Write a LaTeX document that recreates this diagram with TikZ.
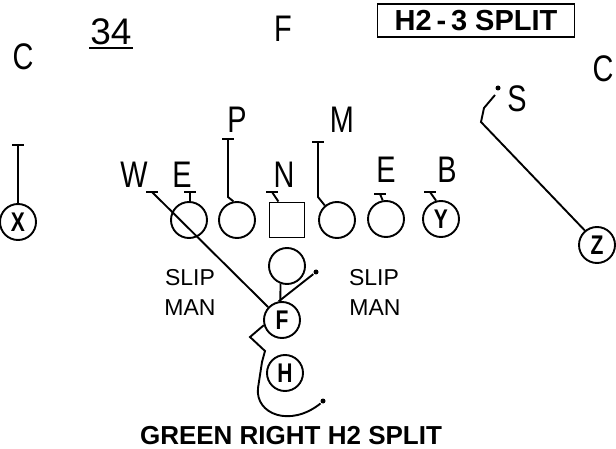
\documentclass[tikz,border=0pt]{standalone}
\usepackage{fontspec}
\setmainfont{Liberation Sans}
\newfontfamily\narrowfont{Liberation Sans}[FakeStretch=0.78]
\usetikzlibrary{arrows.meta}
\begin{document}
\begin{tikzpicture}[x=1pt,y=-1pt,line width=1.9pt,
  player/.style={circle,draw,minimum size=36pt,inner sep=0pt,
    font=\narrowfont\bfseries\fontsize{27}{27}\selectfont},
  big/.style={inner sep=0pt,anchor=base,font=\narrowfont\fontsize{37}{37}\selectfont},
  small/.style={inner sep=0pt,anchor=base,font=\fontsize{23}{23}\selectfont},
  dot/.style={circle,fill,inner sep=0pt,minimum size=5pt}]
\useasboundingbox (0,0) rectangle (616,449);
% offense
\node[player] (X) at (18,222) {X};
\node[player] (LT) at (189,220) {};
\node[player] (LG) at (237,220) {};
\node[draw,minimum size=35pt,inner sep=0pt] (Cn) at (287,220) {};
\node[player] (RG) at (337,220) {};
\node[player] (RT) at (386,219) {};
\node[player] (Y) at (441,219) {Y};
\node[player] (Z) at (597,245) {Z};
\node[player] (QB) at (287,266) {};
\node[player] (F) at (282,320) {F};
\node[player] (H) at (285,373) {H};
% defense
\node[big] (cL) at (23,70) {C};
\node[big,font=\fontsize{37}{37}\selectfont] (num) at (111,45) {34};
\draw ([yshift=-3pt]num.base west) -- ([yshift=-3pt]num.base east);
\node[big] (fS) at (283,42) {F};
\node[draw,minimum width=197pt,minimum height=33pt,inner sep=0pt,
  font=\bfseries\fontsize{29}{29}\selectfont] (play) at (476,20.5) {H2\,-\,3 SPLIT};
\node[big] (cR) at (603,82) {C};
\node[big] (sS) at (517,112) {S};
\node[big] (pL) at (237,133) {P};
\node[big] (mL) at (342,133) {M};
\node[big] (wL) at (134,188) {W};
\node[big] (eL) at (182,188) {E};
\node[big] (nL) at (284,188) {N};
\node[big] (eR) at (386,183) {E};
\node[big] (bL) at (447,183) {B};
% tees
\coordinate (tX) at (18,145);
\coordinate (tW) at (152,192);
\coordinate (tE) at (190,192);
\coordinate (tP) at (228,139);
\coordinate (tN) at (272,192);
\coordinate (tM) at (318,142);
\coordinate (tE2) at (380,194);
\coordinate (tB) at (430,192);
\foreach \t in {tX,tW,tE,tP,tN,tM,tE2,tB}
  \draw ([xshift=-6pt]\t) -- ([xshift=6pt]\t);
\draw (tX) -- (X);
\draw (tW) -- (F.137);
\draw (tE) -- (LT.87);
\draw (tP) -- ++(0,58) -- (LG.101);
\draw (tN) -- (Cn.115);
\draw (tM) -- ++(0,55) -- (RG.130);
\draw (tE2) -- (RT.100);
\draw (tB) -- (Y.105);
% routes
\node[dot] (sd) at (498,88) {};
\coordinate (s1) at (495,95);
\draw (s1) -- (484,108) -- (481,122) -- (Z.130);
\draw (QB.250) -- (F.95);
\node[dot] (fd) at (316,272) {};
\draw (F.100) -- (fd);
\node[dot] (hd) at (323,401) {};
\draw (F.196) -- (250,337) -- (265,351) -- (262,362) -- (258,388)
  .. controls (255,414) and (290,428) .. (hd.south west);
% notes
\node[small] (sl1) at (190,285) {SLIP};
\node[small] (ma1) at (190,315) {MAN};
\node[small] (sl2) at (374,285) {SLIP};
\node[small] (ma2) at (375,315) {MAN};
\node[inner sep=0pt,anchor=base,font=\bfseries\fontsize{26}{26}\selectfont]
  (title) at (291,444) {GREEN RIGHT H2 SPLIT};
\end{tikzpicture}
\end{document}
